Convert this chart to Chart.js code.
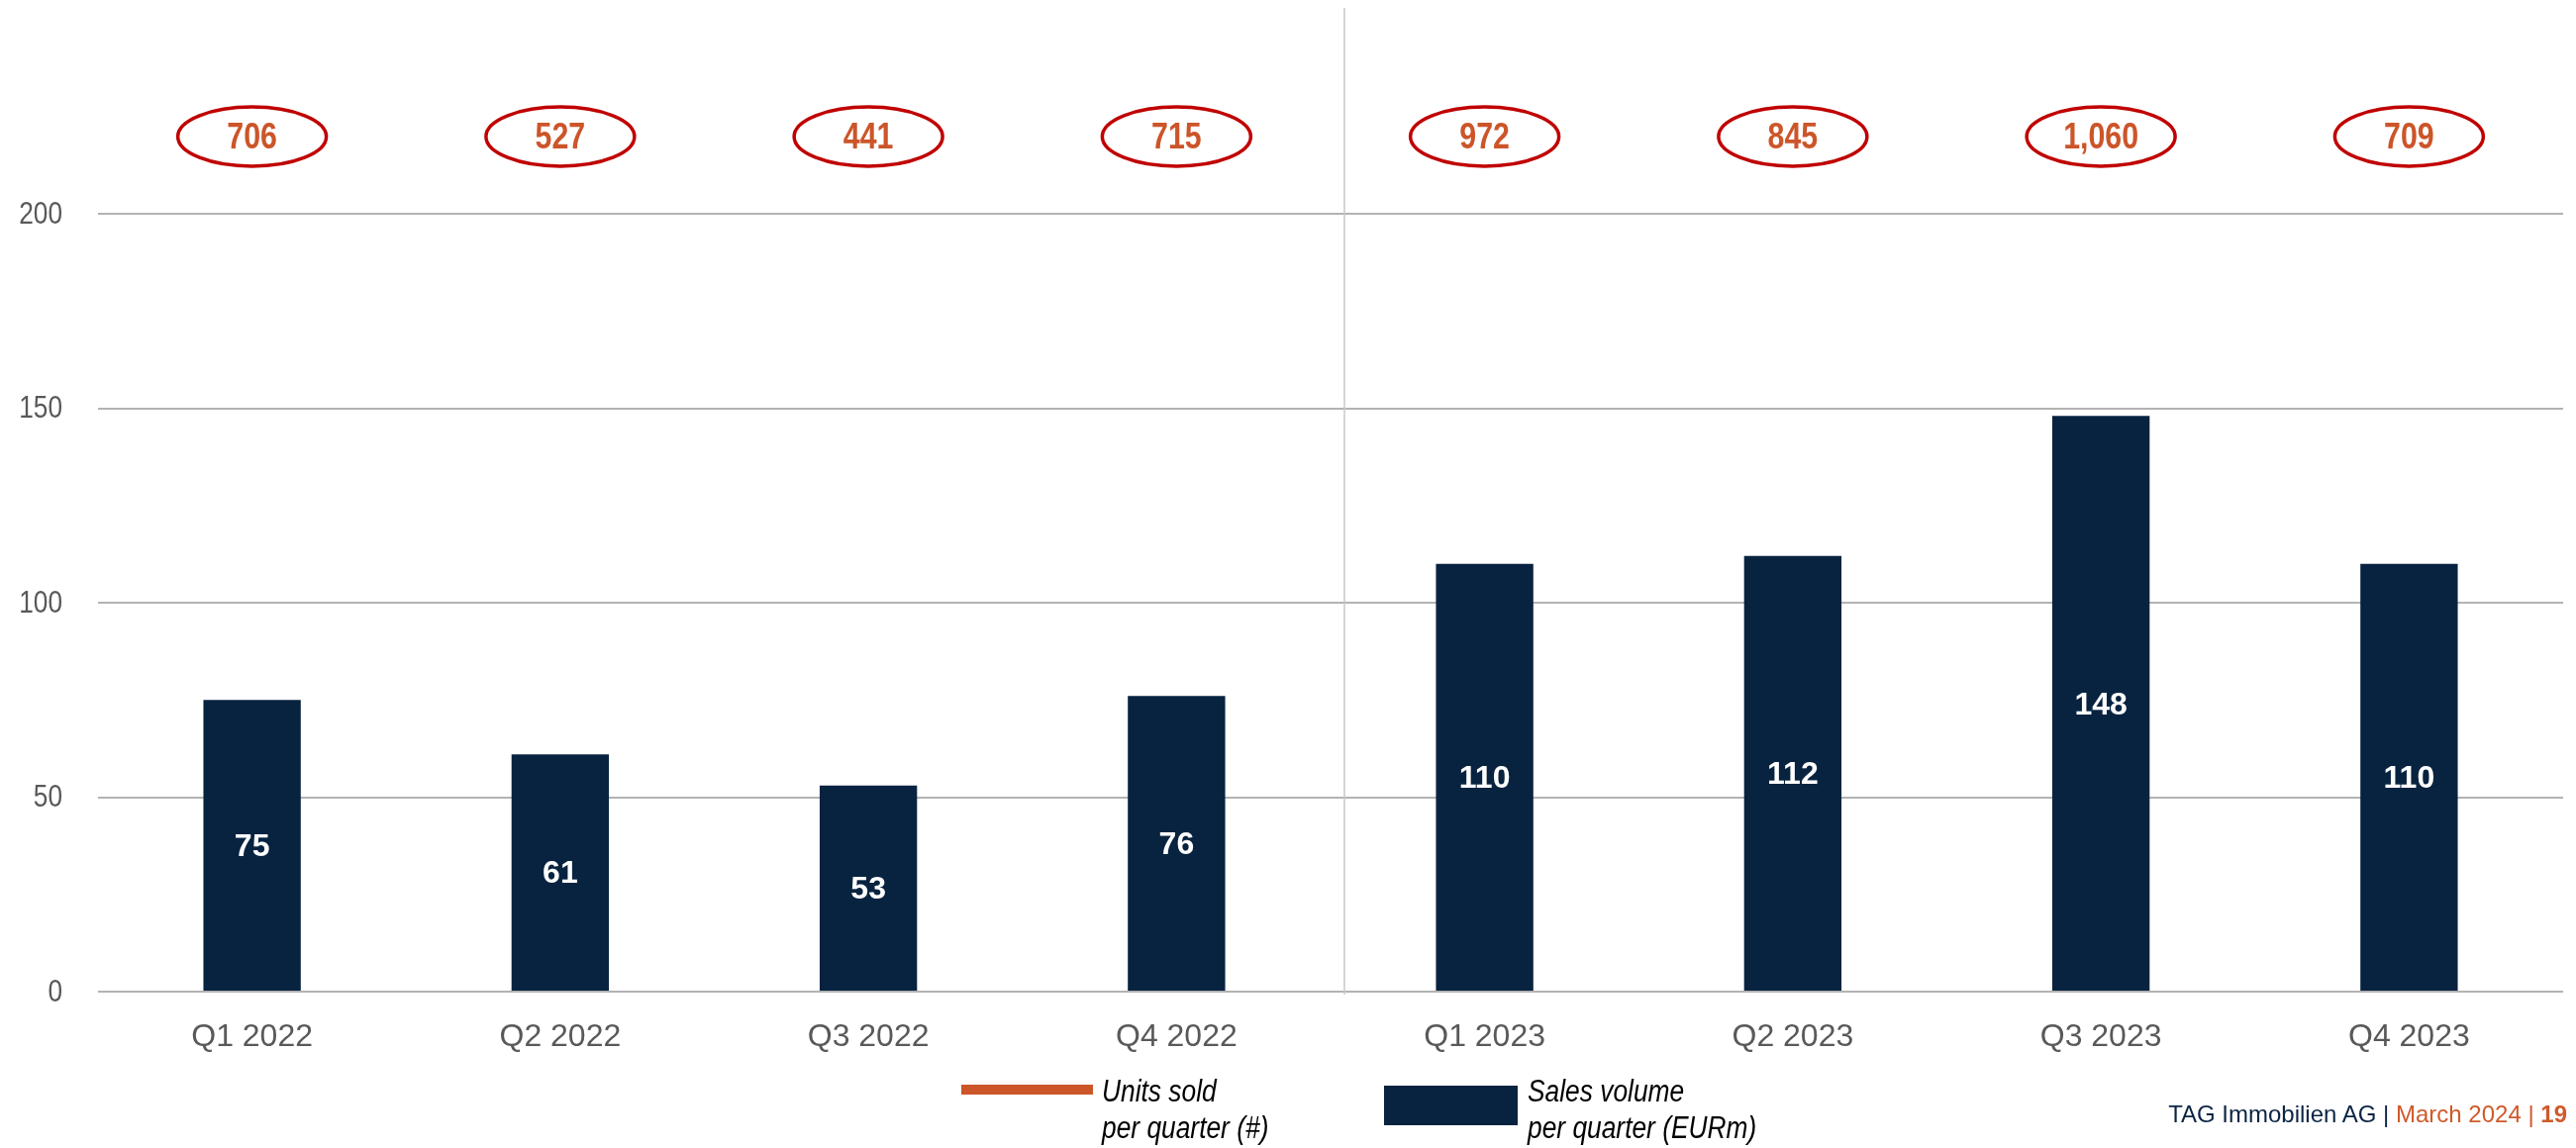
<!DOCTYPE html>
<html>
<head>
<meta charset="utf-8">
<title>Sales per quarter</title>
<script src="https://cdn.jsdelivr.net/npm/chart.js@4.4.1/dist/chart.umd.min.js"></script>
<style>
  html, body { margin: 0; padding: 0; background: #fff; }
  #wrap { position: relative; width: 2602px; height: 1160px; overflow: hidden; }
  #chart { position: absolute; left: 0; top: 0; }
  /* no narrow font installed, so squeeze the regular one */
  .narrow { font-family: 'Liberation Sans', Arial, sans-serif; transform: scaleX(0.85); transform-origin: 0 0; white-space: nowrap; }
  .legend-item { position: absolute; top: 1084px; font-size: 31px; line-height: 37px; font-style: italic; color: #000; }
  .swatch { position: absolute; }
  #footer { position: absolute; right: 9px; top: 1112px; font-family: 'Liberation Sans', Arial, sans-serif; font-size: 24px; white-space: nowrap; }
</style>
</head>
<body>
<div id="wrap">
  <canvas id="chart" width="2602" height="1160"></canvas>
  <div id="legend"></div>
  <div id="footer"><span style="color:#0b2444">TAG Immobilien AG |</span> <span style="color:#cf5a2b">March 2024 |</span> <b style="color:#cf5a2b">19</b></div>
</div>
<script>
// quarters on the x axis
const quarters = ['Q1 2022', 'Q2 2022', 'Q3 2022', 'Q4 2022', 'Q1 2023', 'Q2 2023', 'Q3 2023', 'Q4 2023'];
// sales volume per quarter in EURm (bars)
const salesVolume = [75, 61, 53, 76, 110, 112, 148, 110];
// units sold per quarter (circled numbers on top)
const unitsSold = [706, 527, 441, 715, 972, 845, 1060, 709];
// y axis ticks
const yTicks = [0, 50, 100, 150, 200];

const navy = '#082340';
const orange = '#cc5529';
const regularFont = "'Liberation Sans', Arial, sans-serif";
const squeeze = 0.82;

// draw text squeezed horizontally (looks like Arial Narrow)
function narrowText(ctx, text, x, y, align) {
    ctx.save();
    ctx.translate(x, y);
    ctx.scale(squeeze, 1);
    ctx.textAlign = align;
    ctx.fillText(text, 0, 0);
    ctx.restore();
}

// white numbers in the middle of each bar
const barLabels = {
    id: 'barLabels',
    afterDatasetsDraw(chart) {
        const ctx = chart.ctx;
        const meta = chart.getDatasetMeta(0);
        ctx.save();
        ctx.fillStyle = '#fff';
        ctx.font = 'bold 32px ' + regularFont;
        ctx.textAlign = 'center';
        ctx.textBaseline = 'middle';
        meta.data.forEach((bar, i) => {
            const p = bar.getProps(['x', 'y', 'base'], true);
            ctx.fillText(chart.data.datasets[0].data[i], p.x, (p.y + p.base) / 2 + 2);
        });
        ctx.restore();
    }
};

// y tick labels in narrow type
const yLabels = {
    id: 'yLabels',
    afterDraw(chart) {
        const ctx = chart.ctx;
        const ys = chart.scales.y;
        ctx.save();
        ctx.fillStyle = '#595959';
        ctx.font = '32px ' + regularFont;
        ctx.textBaseline = 'middle';
        ys.ticks.forEach(t => {
            narrowText(ctx, String(t.value), ys.right - 36, ys.getPixelForValue(t.value) + 1, 'right');
        });
        ctx.restore();
    }
};

// red ellipses with the units sold above the plot, plus the 2022/2023 divider
const unitsOverlay = {
    id: 'unitsOverlay',
    afterDraw(chart) {
        const ctx = chart.ctx;
        const xs = chart.scales.x;
        const area = chart.chartArea;

        // divider between the two years
        const mid = (xs.getPixelForValue(3) + xs.getPixelForValue(4)) / 2 + 14;
        ctx.save();
        ctx.strokeStyle = '#c9c9c9';
        ctx.lineWidth = 1.5;
        ctx.beginPath();
        ctx.moveTo(mid, 8);
        ctx.lineTo(mid, area.bottom + 3);
        ctx.stroke();

        const cy = area.top - 78;
        unitsSold.forEach((u, i) => {
            const x = xs.getPixelForValue(i);
            ctx.beginPath();
            ctx.ellipse(x, cy, 75, 30, 0, 0, Math.PI * 2);
            ctx.strokeStyle = '#c00000';
            ctx.lineWidth = 3.5;
            ctx.stroke();
            ctx.fillStyle = orange;
            ctx.font = 'bold 37px ' + regularFont;
            ctx.textBaseline = 'middle';
            narrowText(ctx, u.toLocaleString('en-US'), x, cy + 2, 'center');
        });
        ctx.restore();
    }
};

const ctx = document.getElementById('chart').getContext('2d');
const myChart = new Chart(ctx, {
    type: 'bar',
    data: {
        labels: quarters,
        datasets: [{
            label: 'Sales volume\nper quarter (EURm)',
            data: salesVolume,
            backgroundColor: navy,
            categoryPercentage: 1,
            barPercentage: 0.316
        }]
    },
    options: {
        responsive: false,
        animation: false,
        devicePixelRatio: 1,
        layout: { padding: { top: 216, right: 13, left: 0, bottom: 0 } },
        plugins: {
            legend: { display: false },
            tooltip: { enabled: false }
        },
        scales: {
            x: {
                grid: { display: false },
                border: { display: false },
                ticks: { color: '#595959', font: { family: regularFont, size: 32 }, padding: 19 },
                afterFit: s => { s.height = 158; }
            },
            y: {
                min: yTicks[0],
                max: yTicks[yTicks.length - 1],
                afterBuildTicks: s => { s.ticks = yTicks.map(v => ({ value: v })); },
                ticks: { display: false },
                grid: { color: '#b3b3b3', lineWidth: 2, drawTicks: false },
                border: { display: false },
                afterFit: s => { s.width = 99; }
            }
        }
    },
    plugins: [barLabels, yLabels, unitsOverlay]
});

// legend below the chart
const legendItems = [
    { text: 'Units sold\nper quarter (#)', color: orange, sw: { left: 971, top: 1096, width: 133, height: 10 }, textLeft: 1113 },
    { text: myChart.data.datasets[0].label, color: navy, sw: { left: 1398, top: 1097, width: 135, height: 40 }, textLeft: 1543 }
];
const legend = document.getElementById('legend');
legendItems.forEach(item => {
    const sw = document.createElement('div');
    sw.className = 'swatch';
    Object.assign(sw.style, {
        left: item.sw.left + 'px', top: item.sw.top + 'px',
        width: item.sw.width + 'px', height: item.sw.height + 'px', background: item.color
    });
    legend.appendChild(sw);
    const t = document.createElement('div');
    t.className = 'legend-item narrow';
    t.style.left = item.textLeft + 'px';
    t.innerHTML = item.text.split('\n').join('<br>');
    legend.appendChild(t);
});
</script>
</body>
</html>
